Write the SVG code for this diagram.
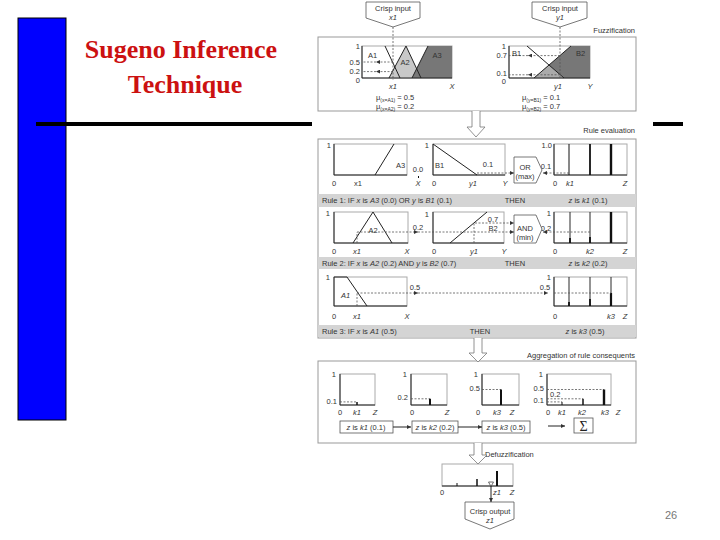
<svg xmlns="http://www.w3.org/2000/svg" width="720" height="540" viewBox="0 0 720 540">
<defs>
<style>
.t{font-family:"Liberation Sans",Arial,sans-serif;font-size:7.5px;fill:#333}
.s{font-size:5px}
.m{text-anchor:middle}
.e{text-anchor:end}
.i{font-style:italic}
.fr{fill:#fff;stroke:#aaa;stroke-width:1}
.pn{fill:#fff;stroke:#999;stroke-width:1}
.ax{fill:none;stroke:#222;stroke-width:1}
.ln{fill:none;stroke:#222;stroke-width:1}
.ds{fill:none;stroke:#555;stroke-width:0.8;stroke-dasharray:2 1.5}
.band{fill:#d4d4d4}
.box{fill:#fff;stroke:#555;stroke-width:0.8}
.ha{fill:#fff;stroke:#777;stroke-width:0.8}
.k{stroke:#111;fill:none}
.title{font-family:"Liberation Serif","Times New Roman",serif;font-size:26px;font-weight:bold;fill:#cc1111;text-anchor:middle}
</style>
<marker id="ah" viewBox="0 0 6 6" refX="6" refY="3" markerWidth="4" markerHeight="4" markerUnits="userSpaceOnUse" orient="auto"><path d="M0,0 L6,3 L0,6z" fill="#333"/></marker>
</defs>
<rect width="720" height="540" fill="#fff"/>

<g id="slide">
<rect x="18" y="18" width="48" height="402" fill="#0000ff" stroke="#000" stroke-width="1"/>
<text class="title" x="181" y="58">Sugeno Inference</text>
<text class="title" x="185" y="93">Technique</text>
<rect x="36" y="122" width="276" height="4" fill="#000"/>
<rect x="653" y="122" width="30" height="4" fill="#000"/>
<text x="671" y="519" font-family="Liberation Sans,Arial,sans-serif" font-size="11" fill="#777" text-anchor="middle">26</text>
</g>

<g id="crisp-input-x">
<polygon class="box" points="366,2 420,2 420,18 393,27 366,18"/>
<text class="t m" x="393" y="11" font-size="8">Crisp input</text>
<text class="t m i" x="393" y="20" font-size="8">x1</text>
</g>
<g id="crisp-input-y">
<polygon class="box" points="532,2 587,2 587,18 560,27 532,18"/>
<text class="t m" x="560" y="11" font-size="8">Crisp input</text>
<text class="t m i" x="560" y="20" font-size="8">y1</text>
</g>

<g id="fuzzification">
<rect class="pn" x="318" y="37" width="318" height="74"/>
<text class="t e" x="635" y="33">Fuzzification</text>
<rect class="fr" x="362" y="46" width="90" height="32"/>
<polygon points="389,78 406,46 421,78" fill="#c8c8c8"/>
<polygon points="412,78 428,46 452,46 452,78" fill="#777"/>
<path class="ln" d="M385,46 L400,78 M389,78 L406,46 L421,78 M412,78 L428,46"/>
<path class="ax" d="M362,46 V78 H452"/>
<path class="ds" d="M393,62 H376" marker-end="url(#ah)"/><path class="ds" d="M376,62 H362"/>
<path class="ds" d="M393,71.6 H376" marker-end="url(#ah)"/><path class="ds" d="M376,71.6 H362"/>
<text class="t e" x="360" y="49">1</text>
<text class="t e" x="360" y="65">0.5</text>
<text class="t e" x="360" y="73.5" font-size="7">0.2</text>
<text class="t e" x="360" y="83" font-size="7">0</text>
<text class="t" x="368" y="58">A1</text>
<text class="t m" x="405" y="65">A2</text>
<text class="t m" x="437" y="58">A3</text>
<text class="t m i" x="393" y="89">x1</text>
<text class="t m i" x="452" y="89">X</text>
<text class="t" x="376" y="100">μ<tspan class="s" dy="1.5">(x=A1)</tspan><tspan dy="-1.5"> = 0.5</tspan></text>
<text class="t" x="376" y="109">μ<tspan class="s" dy="1.5">(x=A2)</tspan><tspan dy="-1.5"> = 0.2</tspan></text>

<rect class="fr" x="509" y="46" width="81" height="32"/>
<polygon points="534,78 571,46 590,46 590,78" fill="#777"/>
<polygon points="534,78 549,65 564,78" fill="#aaa"/>
<path class="ln" d="M527,46 L564,78 M534,78 L571,46"/>
<path class="ax" d="M509,46 V78 H590"/>
<path class="ds" d="M560,55.6 H528" marker-end="url(#ah)"/><path class="ds" d="M528,55.6 H509"/>
<path class="ds" d="M560,74.8 H528" marker-end="url(#ah)"/><path class="ds" d="M528,74.8 H509"/>
<text class="t e" x="506" y="49">1</text>
<text class="t e" x="507" y="58">0.7</text>
<text class="t e" x="507" y="76" font-size="7">0.1</text>
<text class="t e" x="506" y="84" font-size="7">0</text>
<text class="t" x="512" y="56">B1</text>
<text class="t" x="576" y="56">B2</text>
<text class="t m i" x="558" y="89">y1</text>
<text class="t m i" x="590" y="89">Y</text>
<text class="t" x="522" y="100">μ<tspan class="s" dy="1.5">(y=B1)</tspan><tspan dy="-1.5"> = 0.1</tspan></text>
<text class="t" x="522" y="109">μ<tspan class="s" dy="1.5">(y=B2)</tspan><tspan dy="-1.5"> = 0.7</tspan></text>
</g>

<g id="rule-evaluation">
<rect class="pn" x="318" y="139" width="318" height="199"/>
<text class="t e" x="635" y="133">Rule evaluation</text>
<!-- rule 1 -->
<rect class="fr" x="334" y="144" width="73" height="31"/>
<path class="ax" d="M334,144 V175 H407"/>
<path class="ln" d="M375,175 L394,144" stroke-width="1.2"/>
<text class="t e" x="331" y="148">1</text>
<text class="t" x="396" y="168">A3</text>
<text class="t m" x="334" y="186">0</text>
<text class="t m" x="358" y="186">x1</text>
<text class="t m i" x="418" y="186">X</text>
<text class="t m" x="418" y="172">0.0</text>

<rect class="fr" x="433" y="144" width="72" height="31"/>
<path class="ax" d="M433,144 V175 H505"/>
<path class="ln" d="M433,144 L477,175"/>
<text class="t e" x="429" y="148">1</text>
<text class="t" x="435" y="168">B1</text>
<text class="t m" x="488" y="167">0.1</text>
<text class="t m" x="434" y="186">0</text>
<text class="t m i" x="473" y="186">y1</text>
<text class="t m i" x="505" y="186">Y</text>

<rect class="fr" x="554" y="144" width="73" height="31"/>
<path class="ax" d="M554,144 V175 H627"/>
<path class="k" d="M569,144 V175" stroke-width="1"/>
<path class="k" d="M590,144 V175" stroke-width="1.8"/>
<path class="k" d="M611,144 V175" stroke-width="2.4"/>
<text class="t e" x="552" y="148">1.0</text>
<text class="t m" x="546" y="169">0.1</text>
<text class="t m" x="555" y="186">0</text>
<text class="t m i" x="570" y="186">k1</text>
<text class="t m i" x="625" y="186">Z</text>

<rect class="band" x="318" y="194" width="318" height="13"/>
<text class="t" x="322" y="203">Rule 1: IF <tspan class="i">x</tspan> is <tspan class="i">A3</tspan> (0.0) OR <tspan class="i">y</tspan> is <tspan class="i">B1</tspan> (0.1)</text>
<text class="t m" x="515" y="203">THEN</text>
<text class="t m" x="588" y="203"><tspan class="i">z</tspan> is <tspan class="i">k1</tspan> (0.1)</text>

<!-- rule 2 -->
<rect class="fr" x="334" y="212" width="74" height="31"/>
<path class="ax" d="M334,212 V243 H408"/>
<path class="ln" d="M353,243 L373,212 L392,243" stroke-width="1.1"/>
<text class="t e" x="330" y="216">1</text>
<text class="t m" x="373" y="233">A2</text>
<text class="t m" x="418" y="230">0.2</text>
<text class="t m" x="334" y="254">0</text>
<text class="t m i" x="357" y="254">x1</text>
<text class="t m i" x="407" y="254">X</text>

<rect class="fr" x="433" y="212" width="71" height="31"/>
<path class="ax" d="M433,212 V243 H504"/>
<path class="ln" d="M450,243 L487,212"/>
<text class="t e" x="429" y="217">1</text>
<text class="t m" x="493" y="222">0.7</text>
<text class="t m" x="493" y="231">B2</text>
<text class="t m" x="434" y="254">0</text>
<text class="t m i" x="474" y="254">y1</text>
<text class="t m i" x="504" y="254">Y</text>

<rect class="fr" x="554" y="212" width="73" height="31"/>
<path class="ax" d="M554,212 V243 H627"/>
<path class="k" d="M570,212 V243" stroke-width="0.9"/>
<path class="k" d="M570,238 V243" stroke-width="1.8"/>
<path class="k" d="M590,212 V243" stroke-width="0.9"/>
<path class="k" d="M590,237 V243" stroke-width="1.8"/>
<path class="k" d="M611,212 V243" stroke-width="2.4"/>
<text class="t e" x="551" y="216">1</text>
<text class="t m" x="546" y="231">0.2</text>
<text class="t m" x="555" y="254">0</text>
<text class="t m i" x="590" y="254">k2</text>
<text class="t m i" x="625" y="254">Z</text>

<rect class="band" x="318" y="257" width="318" height="12"/>
<text class="t" x="322" y="265.5">Rule 2: IF <tspan class="i">x</tspan> is <tspan class="i">A2</tspan> (0.2) AND <tspan class="i">y</tspan> is <tspan class="i">B2</tspan> (0.7)</text>
<text class="t m" x="515" y="265.5">THEN</text>
<text class="t m" x="588" y="265.5"><tspan class="i">z</tspan> is <tspan class="i">k2</tspan> (0.2)</text>

<!-- rule 3 -->
<rect class="fr" x="334" y="277" width="73" height="29"/>
<path class="ax" d="M334,277 V306 H407"/>
<path class="ln" d="M334,277 H347" stroke-width="2"/>
<path class="ln" d="M347,277 L367,306" stroke-width="1.1"/>
<text class="t e" x="330" y="280">1</text>
<text class="t i" x="341" y="298">A1</text>
<text class="t m" x="415" y="290">0.5</text>
<text class="t m" x="334" y="319">0</text>
<text class="t m i" x="357" y="319">x1</text>
<text class="t m i" x="407" y="319">X</text>

<rect class="fr" x="554" y="277" width="73" height="29"/>
<path class="ax" d="M554,277 V306 H627"/>
<path class="k" d="M569,277 V306" stroke-width="0.9"/>
<path class="k" d="M569,302 V306" stroke-width="1.8"/>
<path class="k" d="M590,277 V306" stroke-width="0.9"/>
<path class="k" d="M590,299 V306" stroke-width="1.8"/>
<path class="k" d="M611,277 V306" stroke-width="0.9"/>
<path class="k" d="M611,293 V306" stroke-width="2.2"/>
<text class="t e" x="551" y="280">1</text>
<text class="t m" x="545" y="290">0.5</text>
<text class="t m" x="555" y="319">0</text>
<text class="t m i" x="611" y="319">k3</text>
<text class="t m i" x="625" y="319">Z</text>

<rect class="band" x="318" y="325" width="318" height="12"/>
<text class="t" x="322" y="333.5">Rule 3: IF <tspan class="i">x</tspan> is <tspan class="i">A1</tspan> (0.5)</text>
<text class="t m" x="480" y="333.5">THEN</text>
<text class="t m" x="585" y="333.5"><tspan class="i">z</tspan> is <tspan class="i">k3</tspan> (0.5)</text>
</g>

<g id="or-operator">
<polygon class="box" points="514,157 536,157 542,170 536,183 514,183"/>
<text class="t m" x="525" y="170">OR</text>
<text class="t m" x="525" y="179">(max)</text>
</g>
<g id="and-operator">
<polygon class="box" points="514,215 536,215 542,229 536,243 514,243"/>
<text class="t m" x="525" y="231">AND</text>
<text class="t m" x="525" y="240">(min)</text>
</g>

<g id="aggregation">
<rect class="pn" x="318" y="361" width="318" height="82"/>
<text class="t e" x="635" y="358">Aggregation of rule consequents</text>
<rect class="fr" x="340" y="374" width="35" height="31" stroke="#444"/>
<path class="ax" d="M340,374 V405 H375"/>
<path class="ds" d="M340,401.9 H357"/>
<path class="k" d="M357,405 V401.9" stroke-width="1.5"/>
<text class="t e" x="336" y="377">1</text>
<text class="t e" x="337" y="404">0.1</text>
<text class="t m" x="340" y="415">0</text>
<text class="t m i" x="357" y="415">k1</text>
<text class="t m i" x="375" y="415">Z</text>

<rect class="fr" x="411" y="374" width="36" height="31"/>
<path class="ax" d="M411,374 V405 H447"/>
<path class="ds" d="M411,398.8 H430"/>
<path class="k" d="M430,405 V398.8" stroke-width="2"/>
<text class="t e" x="407" y="377">1</text>
<text class="t e" x="408" y="400">0.2</text>
<text class="t m" x="412" y="415">0</text>
<text class="t m i" x="447" y="415">Z</text>

<rect class="fr" x="482" y="374" width="37" height="31"/>
<path class="ax" d="M482,374 V405 H519"/>
<path class="ds" d="M482,389.5 H501" stroke="#aaa"/>
<path class="k" d="M501,405 V389.5" stroke-width="2"/>
<text class="t e" x="478" y="377">1</text>
<text class="t e" x="480" y="391">0.5</text>
<text class="t m" x="478" y="415">0</text>
<text class="t m i" x="497" y="415">k3</text>
<text class="t m i" x="512" y="415">Z</text>

<rect class="fr" x="547" y="374" width="64" height="31"/>
<path class="ax" d="M547,374 V405 H611"/>
<path class="ds" d="M547,389.5 H604"/>
<path class="ds" d="M547,398.8 H583"/>
<path class="ds" d="M547,401.9 H562"/>
<path class="k" d="M562,405 V401.9" stroke-width="1"/>
<path class="k" d="M583,405 V398.8" stroke-width="1.5"/>
<path class="k" d="M604,405 V389.5" stroke-width="2.4"/>
<text class="t e" x="543" y="377">1</text>
<text class="t e" x="544" y="391">0.5</text>
<text class="t" x="550" y="396.5">0.2</text>
<text class="t e" x="544" y="403">0.1</text>
<text class="t m" x="548" y="415">0</text>
<text class="t m i" x="562" y="415">k1</text>
<text class="t m i" x="582" y="415">k2</text>
<text class="t m i" x="605" y="415">k3</text>
<text class="t m i" x="618" y="415">Z</text>
</g>

<g id="consequent-k1">
<rect class="box" x="340" y="421" width="53" height="12"/>
<text class="t m" x="366" y="430"><tspan class="i">z</tspan> is <tspan class="i">k1</tspan> (0.1)</text>
</g>
<g id="consequent-k2">
<rect class="box" x="412" y="421" width="46" height="12"/>
<text class="t m" x="435" y="430"><tspan class="i">z</tspan> is <tspan class="i">k2</tspan> (0.2)</text>
</g>
<g id="consequent-k3">
<rect class="box" x="482" y="421" width="48" height="12"/>
<text class="t m" x="506" y="430"><tspan class="i">z</tspan> is <tspan class="i">k3</tspan> (0.5)</text>
</g>
<g id="sum">
<rect class="box" x="574" y="418" width="19" height="15"/>
<text x="583.5" y="431" font-family="Liberation Serif,Times New Roman,serif" font-size="14" fill="#222" text-anchor="middle">Σ</text>
</g>

<g id="defuzzification">
<text class="t" x="485" y="457">Defuzzification</text>
<rect class="fr" x="442" y="464" width="71" height="22"/>
<path class="ax" d="M442,486 H513"/>
<path class="k" d="M457,483 V486" stroke-width="1"/>
<path class="k" d="M477,479 V486" stroke-width="1.5"/>
<path class="k" d="M497,471 V486" stroke-width="2"/>
<polygon points="488.5,482 493.5,482 491,486.5" fill="#fff" stroke="#333" stroke-width="0.7"/>
<text class="t m" x="442" y="495">0</text>
<text class="t m i" x="497" y="495">z1</text>
<text class="t m i" x="512" y="495">Z</text>
</g>

<g id="crisp-output">
<polygon class="box" points="465,502 514,502 514,519 490,529 465,519"/>
<text class="t m" x="490" y="514" font-size="8">Crisp output</text>
<text class="t m i" x="490" y="523" font-size="8">z1</text>
</g>

<g id="connectors">
<path class="ds" d="M393,27 V80" stroke="#333" stroke-width="1"/>
<path class="ds" d="M560,27 V78" stroke-dasharray="1 1.5"/>
<path class="ha" d="M472,111 V127 H467 L476,137 L485,127 H480 V111"/>
<path class="ha" d="M474,338 V353 H469 L478,362 L487,353 H482 V338"/>
<path class="ha" d="M474,443 V455 H469 L478,464 L487,455 H482 V443"/>
<path class="k" d="M418,177 H419" stroke-width="2"/>
<path class="ds" d="M477,173 H514" marker-end="url(#ah)"/>
<path class="ds" d="M569,173 H543" marker-end="url(#ah)"/>
<path class="ds" d="M357,243 V232"/>
<path class="ds" d="M357,232 H418" marker-end="url(#ah)"/>
<path class="ds" d="M418,232 H514" marker-end="url(#ah)"/>
<path class="ds" d="M474,243 V223 H514" marker-end="url(#ah)"/>
<path class="ds" d="M590,232 H543" marker-end="url(#ah)"/>
<path class="ds" d="M357,306 V293"/>
<path class="ds" d="M357,293 H418" marker-end="url(#ah)"/>
<path class="ds" d="M418,293 H548" marker-end="url(#ah)"/>
<path class="ds" d="M554,293 H611" stroke-dasharray="1 1.5"/>
<path class="ln" d="M393,427 H411" stroke-width="0.7" marker-end="url(#ah)"/>
<path class="ln" d="M458,427 H482" stroke-width="0.7" marker-end="url(#ah)"/>
<path class="ln" d="M548,426 H565" stroke-width="0.7" marker-end="url(#ah)"/>
<path class="ln" d="M491,486 V502" stroke-width="0.8" marker-end="url(#ah)"/>
</g>
</svg>
